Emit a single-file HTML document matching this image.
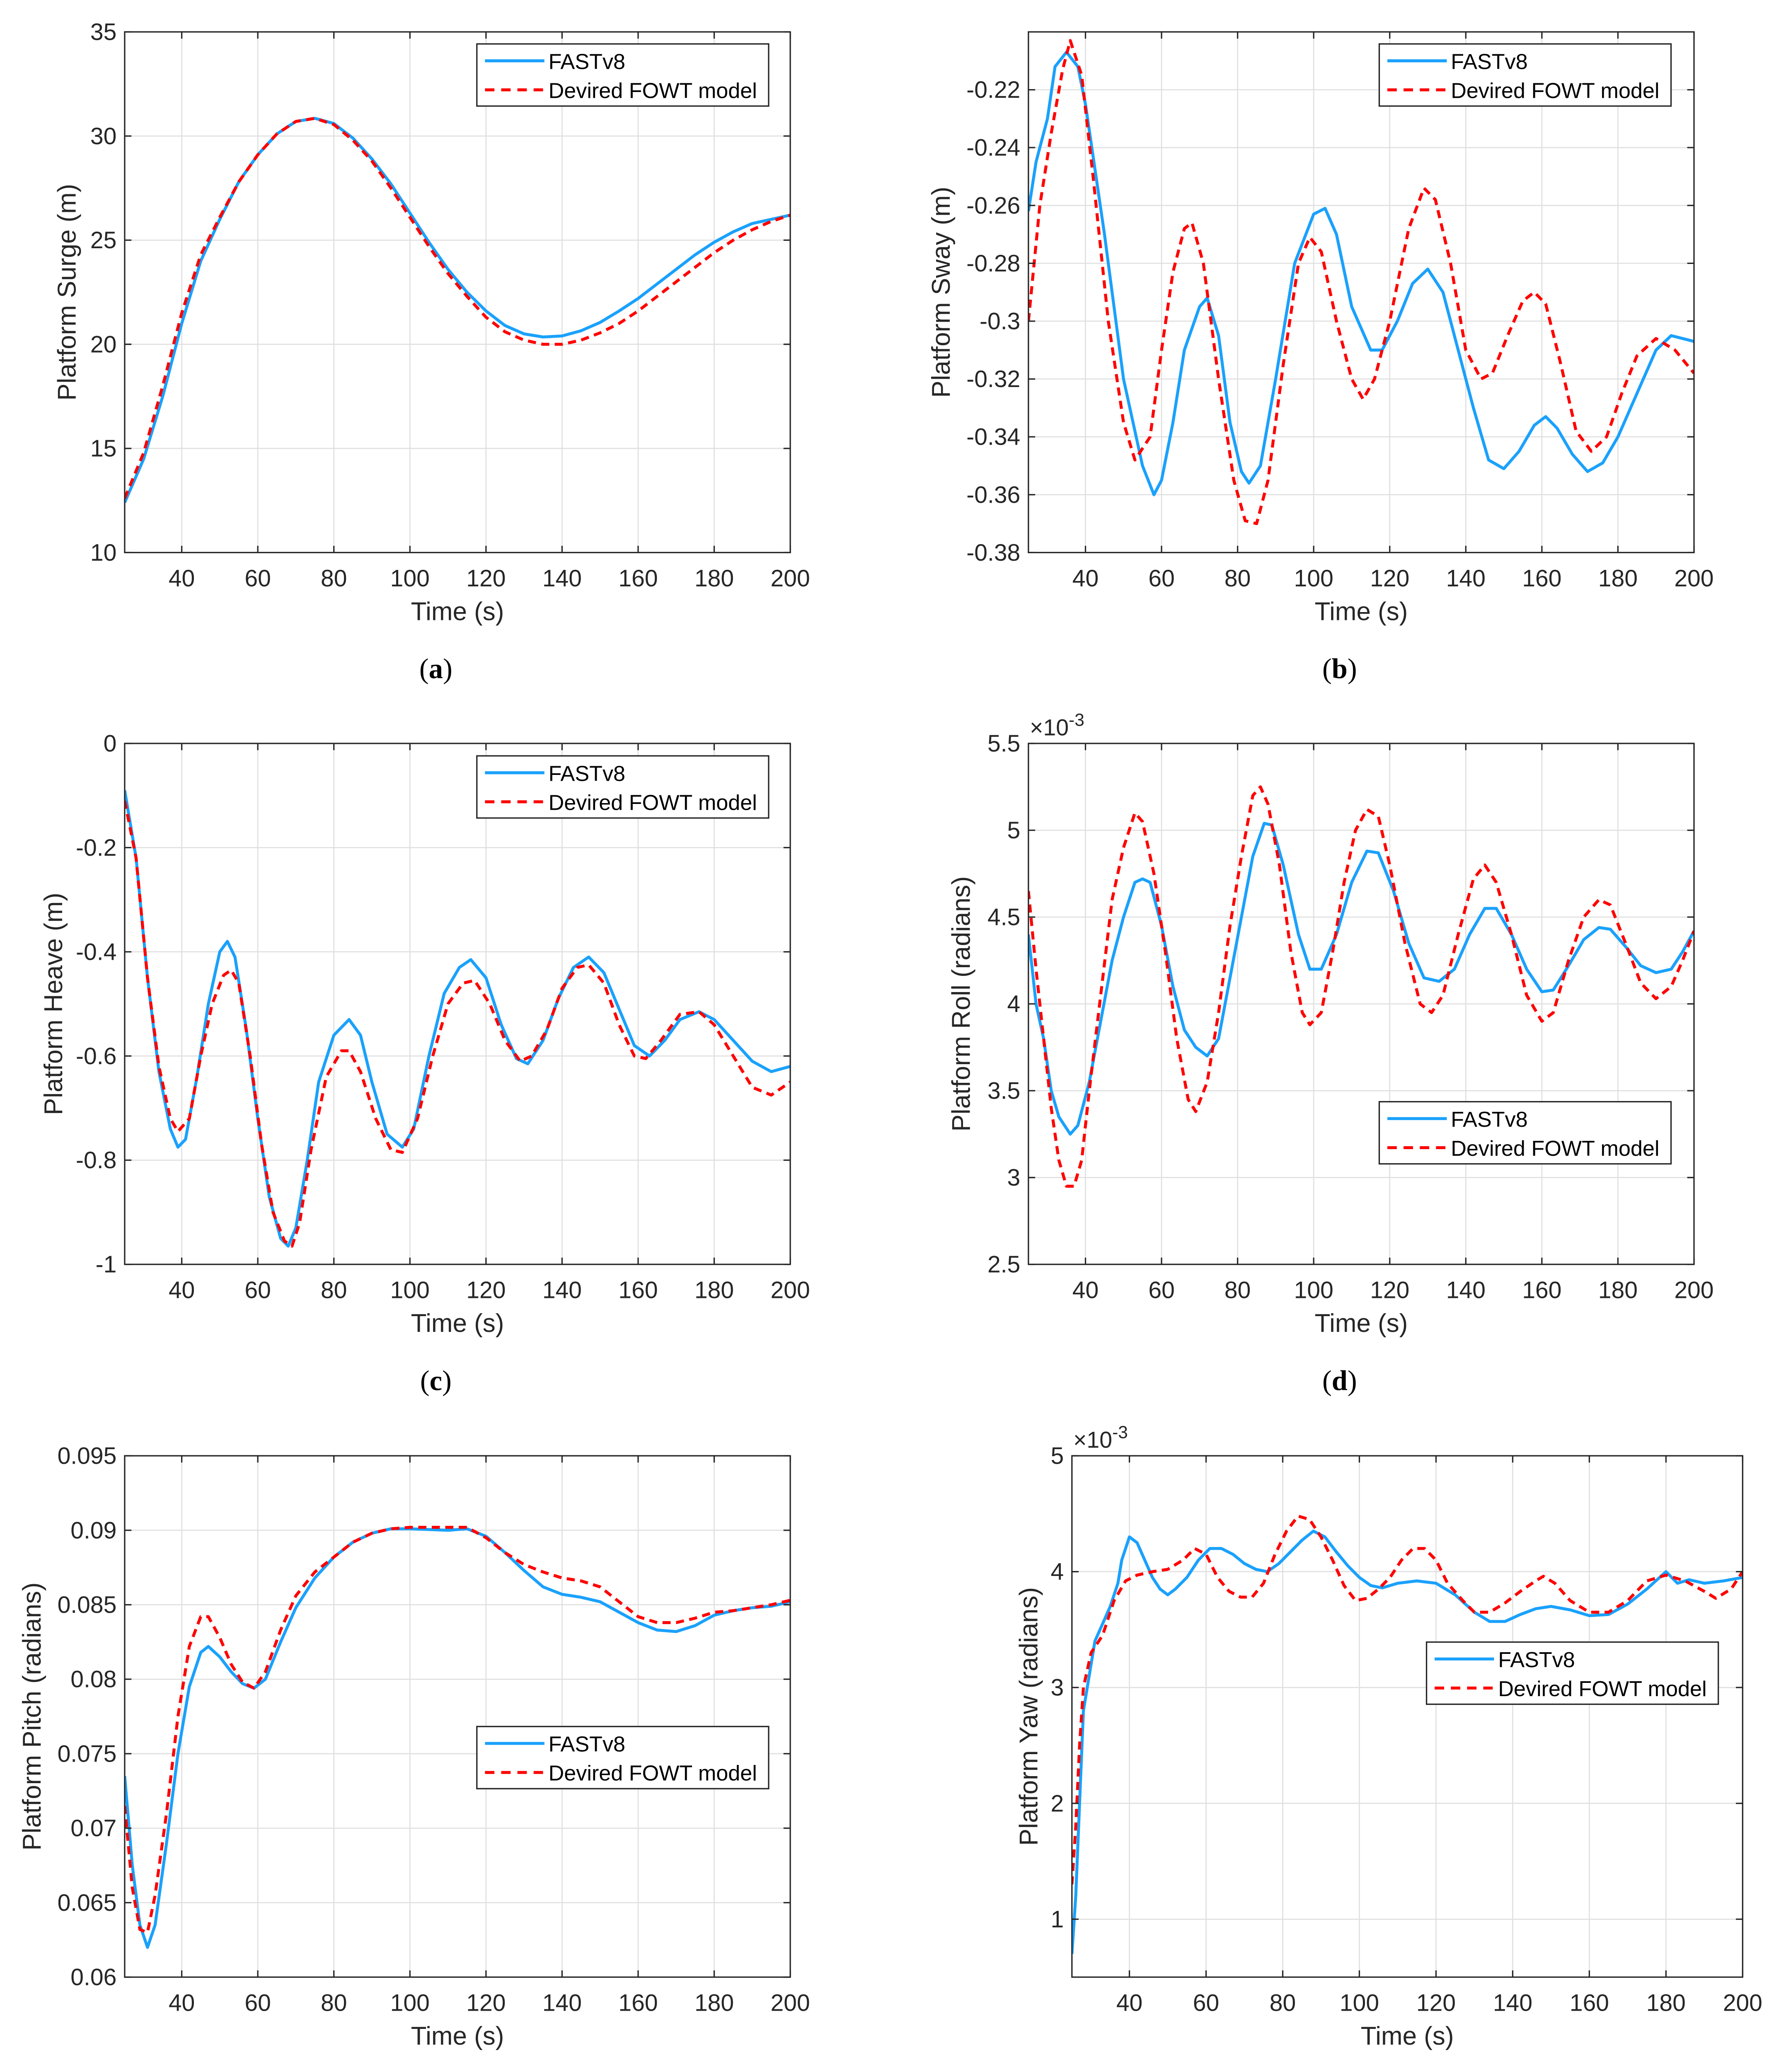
<!DOCTYPE html>
<html><head><meta charset="utf-8">
<style>
html,body{margin:0;padding:0;background:#fff;width:4298px;height:5116px;overflow:hidden;}
svg{display:block;position:absolute;left:0;top:0;}
text{font-family:"Liberation Sans",Arial,sans-serif;fill:#262626;}
</style></head>
<body>
<svg id="fig" xmlns="http://www.w3.org/2000/svg" width="4298" height="5116" viewBox="0 0 1318.4 1569.3"></svg>
<script>
// ---------- data ----------
const surgeT = [25,30,35,40,45,50,55,60,65,70,75,80,85,90,95,100,105,110,115,120,125,130,135,140,145,150,155,160,165,170,175,180,185,190,195,200];
const surgeFast = [12.4,14.5,17.5,21,24,26,27.8,29.1,30.1,30.7,30.85,30.6,29.9,28.9,27.7,26.3,24.9,23.6,22.5,21.6,20.9,20.5,20.35,20.4,20.65,21.05,21.6,22.2,22.9,23.6,24.3,24.9,25.4,25.8,26.0,26.2];
const surgeModel = [12.6,14.8,18,21.5,24.3,26.1,27.8,29.1,30.1,30.7,30.85,30.55,29.8,28.8,27.5,26.1,24.7,23.4,22.3,21.3,20.6,20.2,20.0,20.0,20.2,20.55,21.0,21.6,22.3,23.0,23.7,24.4,25.0,25.5,25.9,26.2];

const swayFastT = [25,27,30,32,35,38,40,45,50,55,58,60,63,66,70,72,75,78,81,83,86,90,95,100,103,106,110,115,118,122,126,130,134,138,142,146,150,154,158,161,164,168,172,176,180,185,190,194,197,200];
const swayFast = [-0.262,-0.245,-0.23,-0.212,-0.207,-0.212,-0.225,-0.27,-0.32,-0.35,-0.36,-0.355,-0.335,-0.31,-0.295,-0.292,-0.305,-0.335,-0.352,-0.356,-0.35,-0.32,-0.28,-0.263,-0.261,-0.27,-0.295,-0.31,-0.31,-0.3,-0.287,-0.282,-0.29,-0.31,-0.33,-0.348,-0.351,-0.345,-0.336,-0.333,-0.337,-0.346,-0.352,-0.349,-0.34,-0.325,-0.31,-0.305,-0.306,-0.307];
const swayModelT = [25,28,31,34,36,39,42,46,50,53,57,60,63,66,68,71,75,79,82,85,88,92,96,99,102,106,110,113,116,120,125,129,132,136,140,144,147,151,155,158,161,165,169,173,177,181,185,190,195,200];
const swayModel = [-0.3,-0.26,-0.235,-0.213,-0.203,-0.215,-0.25,-0.3,-0.335,-0.348,-0.34,-0.31,-0.283,-0.268,-0.266,-0.28,-0.32,-0.355,-0.369,-0.37,-0.355,-0.315,-0.28,-0.271,-0.276,-0.3,-0.32,-0.327,-0.32,-0.3,-0.268,-0.254,-0.258,-0.28,-0.31,-0.32,-0.318,-0.305,-0.293,-0.29,-0.294,-0.315,-0.338,-0.345,-0.34,-0.325,-0.312,-0.306,-0.31,-0.318];

const heaveFastT = [25,28,31,34,37,39,41,44,47,50,52,54,57,60,63,66,68,70,73,76,80,84,87,90,94,98,101,105,109,113,116,120,124,128,131,135,139,143,147,151,155,159,163,167,171,176,180,185,190,195,200];
const heaveFast = [-0.09,-0.22,-0.45,-0.63,-0.74,-0.775,-0.76,-0.64,-0.5,-0.4,-0.38,-0.41,-0.55,-0.72,-0.87,-0.95,-0.965,-0.93,-0.8,-0.65,-0.56,-0.53,-0.56,-0.65,-0.75,-0.775,-0.74,-0.6,-0.48,-0.43,-0.415,-0.45,-0.54,-0.605,-0.615,-0.57,-0.49,-0.43,-0.41,-0.44,-0.51,-0.58,-0.6,-0.57,-0.53,-0.515,-0.53,-0.57,-0.61,-0.63,-0.62];
const heaveModelT = [25,28,31,34,37,39,42,45,48,51,53,55,58,61,64,67,69,71,74,78,82,84,87,91,95,98,102,106,110,114,117,121,125,129,132,136,140,144,147,151,155,159,162,166,171,176,180,185,190,195,200];
const heaveModel = [-0.11,-0.22,-0.45,-0.62,-0.72,-0.745,-0.72,-0.6,-0.5,-0.445,-0.435,-0.46,-0.6,-0.77,-0.9,-0.955,-0.965,-0.92,-0.78,-0.64,-0.59,-0.59,-0.63,-0.72,-0.78,-0.785,-0.72,-0.6,-0.5,-0.46,-0.455,-0.5,-0.57,-0.61,-0.6,-0.55,-0.47,-0.43,-0.425,-0.46,-0.54,-0.6,-0.605,-0.57,-0.52,-0.515,-0.54,-0.6,-0.66,-0.675,-0.65];

const rollFastT = [25,27,29,31,33,36,38,41,44,47,50,53,55,57,60,63,66,69,72,75,78,81,84,87,89,92,96,99,102,106,110,114,117,121,125,129,133,137,141,145,148,152,156,160,163,167,171,175,178,182,186,190,194,197,200];
const rollFast = [4.4,4.0,3.8,3.5,3.35,3.25,3.3,3.55,3.9,4.25,4.5,4.7,4.72,4.7,4.45,4.1,3.85,3.75,3.7,3.8,4.15,4.5,4.85,5.04,5.03,4.8,4.4,4.2,4.2,4.4,4.7,4.88,4.87,4.65,4.35,4.15,4.13,4.2,4.4,4.55,4.55,4.4,4.2,4.07,4.08,4.22,4.37,4.44,4.43,4.33,4.22,4.18,4.2,4.3,4.42];
const rollModelT = [25,27,29,31,33,35,37,39,41,44,47,50,53,55,58,61,64,67,69,72,75,78,81,84,86,88,91,94,97,99,102,105,108,111,114,117,120,124,128,131,134,138,142,145,148,152,156,160,163,167,171,175,178,182,186,190,194,197,200];
const rollModel = [4.65,4.2,3.8,3.4,3.1,2.95,2.95,3.1,3.5,4.05,4.6,4.9,5.1,5.05,4.75,4.3,3.8,3.45,3.38,3.55,3.95,4.45,4.85,5.2,5.25,5.15,4.8,4.3,3.95,3.88,3.95,4.3,4.7,5.0,5.12,5.08,4.8,4.35,4.0,3.95,4.05,4.4,4.72,4.8,4.7,4.4,4.05,3.9,3.95,4.25,4.5,4.6,4.57,4.35,4.12,4.03,4.1,4.25,4.42];

const pitchT = [25,27,29,31,33,36,39,42,45,47,50,53,56,59,62,66,70,75,80,85,90,95,100,110,115,120,125,130,135,140,145,150,155,160,165,170,175,180,185,190,195,200];
const pitchFast = [0.0735,0.0675,0.0635,0.062,0.0635,0.069,0.075,0.0795,0.0818,0.0822,0.0815,0.0805,0.0797,0.0794,0.08,0.0825,0.0848,0.0868,0.0882,0.0892,0.0898,0.0901,0.0901,0.09,0.0901,0.0896,0.0885,0.0873,0.0862,0.0857,0.0855,0.0852,0.0845,0.0838,0.0833,0.0832,0.0836,0.0843,0.0846,0.0848,0.0849,0.0852];
const pitchModel = [0.0715,0.066,0.0632,0.063,0.0655,0.071,0.0775,0.0822,0.0842,0.0842,0.0828,0.081,0.0798,0.0794,0.0805,0.0833,0.0856,0.0872,0.0882,0.0892,0.0898,0.0901,0.0902,0.0902,0.0902,0.0895,0.0885,0.0877,0.0872,0.0868,0.0866,0.0862,0.0852,0.0842,0.0838,0.0838,0.0841,0.0845,0.0846,0.0848,0.085,0.0853];

const yawFastT = [25,26,27,28,29,31,33,35,37,38,40,42,44,46,48,50,52,55,58,61,64,67,70,73,76,79,82,85,88,91,94,97,100,103,106,110,115,120,125,130,134,138,142,146,150,155,160,165,170,175,180,183,186,190,195,200];
const yawFast = [0.7,1.2,2.0,2.8,3.0,3.4,3.55,3.7,3.9,4.1,4.3,4.25,4.1,3.95,3.85,3.8,3.85,3.95,4.1,4.2,4.2,4.15,4.07,4.02,4.0,4.07,4.17,4.27,4.35,4.3,4.17,4.05,3.95,3.88,3.86,3.9,3.92,3.9,3.8,3.65,3.57,3.57,3.63,3.68,3.7,3.67,3.62,3.63,3.72,3.85,4.0,3.9,3.93,3.9,3.92,3.95];
const yawModelT = [25,26,27,28,30,33,36,39,42,46,50,54,57,60,63,66,69,72,75,78,81,84,87,90,93,96,99,102,105,108,111,114,117,120,123,127,130,134,138,142,146,148,151,155,160,165,170,175,180,185,190,193,197,200];
const yawModel = [1.3,1.8,2.5,3.0,3.3,3.45,3.75,3.92,3.97,4.0,4.02,4.1,4.2,4.15,3.95,3.83,3.78,3.78,3.9,4.15,4.35,4.48,4.45,4.3,4.1,3.88,3.75,3.77,3.85,3.95,4.1,4.2,4.2,4.1,3.9,3.75,3.65,3.65,3.73,3.83,3.92,3.96,3.9,3.75,3.65,3.65,3.75,3.92,3.97,3.92,3.83,3.77,3.85,4.0];

const xTicks = [40,60,80,100,120,140,160,180,200];
const surgeTicks = [10,15,20,25,30,35];
const swayTicks = [-0.38,-0.36,-0.34,-0.32,-0.3,-0.28,-0.26,-0.24,-0.22];
const heaveTicks = [-1,-0.8,-0.6,-0.4,-0.2,0];
const rollTicks = [2.5,3,3.5,4,4.5,5,5.5];
const pitchTicks = [0.06,0.065,0.07,0.075,0.08,0.085,0.09,0.095];
const yawTicks = [1,2,3,4,5];

// ---------- drawing ----------
const NS = "http://www.w3.org/2000/svg";
const svg = document.getElementById('fig');
function mk(tag, attrs, parent){
  const e = document.createElementNS(NS, tag);
  for (const k in attrs) e.setAttribute(k, attrs[k]);
  (parent||svg).appendChild(e);
  return e;
}
const BLUE = "#1aa1fc", RED = "#ff0000", AX = "#262626", GRID = "#dfdfdf";

function panel(p){
  const g = mk('g', {});
  
  
  const X = t => p.x0 + (t - 25) / 175 * (p.x1 - p.x0);
  const Y = v => p.y1 - (v - p.ymin) / (p.ymax - p.ymin) * (p.y1 - p.y0);
  xTicks.forEach(t => { const l = mk('line', {x1:X(t),x2:X(t),y1:p.y0,y2:p.y1,stroke:GRID,'stroke-width':0.8}, g);
      });
  p.yTicks.forEach(v => { const l = mk('line', {x1:p.x0,x2:p.x1,y1:Y(v),y2:Y(v),stroke:GRID,'stroke-width':0.8}, g);
      });
  const clipId = p.name + '-clip';
  const cp = mk('clipPath', {id: clipId}, g);
  mk('rect', {x:p.x0,y:p.y0,width:p.x1-p.x0,height:p.y1-p.y0}, cp);
  const path = (ts, vs) => ts.map((t,i)=>(i?'L':'M')+X(t).toFixed(2)+' '+Y(vs[i]).toFixed(2)).join(' ');
  const s1 = mk('path', {d:path(p.tf, p.vf), fill:'none', stroke:BLUE, 'stroke-width':2.2, 'stroke-linejoin':'round', 'clip-path':'url(#'+clipId+')'}, g);
   
  const s2 = mk('path', {d:path(p.tm, p.vm), fill:'none', stroke:RED, 'stroke-width':2.2, 'stroke-linejoin':'round', 'stroke-dasharray':'6 4', 'clip-path':'url(#'+clipId+')'}, g);
   
  const bx = mk('rect', {x:p.x0,y:p.y0,width:p.x1-p.x0,height:p.y1-p.y0,fill:'none',stroke:AX,'stroke-width':1}, g);
   
  xTicks.forEach(t => {
    mk('line',{x1:X(t),x2:X(t),y1:p.y1,y2:p.y1-5,stroke:AX,'stroke-width':1},g);
    mk('line',{x1:X(t),x2:X(t),y1:p.y0,y2:p.y0+5,stroke:AX,'stroke-width':1},g);
    const tx = mk('text',{x:X(t),y:p.y1+25,'text-anchor':'middle','font-size':17.5},g);
    tx.textContent = t;
     
  });
  p.yTicks.forEach(v => {
    mk('line',{x1:p.x0,x2:p.x0+5,y1:Y(v),y2:Y(v),stroke:AX,'stroke-width':1},g);
    mk('line',{x1:p.x1,x2:p.x1-5,y1:Y(v),y2:Y(v),stroke:AX,'stroke-width':1},g);
    const tx = mk('text',{x:p.x0-6,y:Y(v)+6,'text-anchor':'end','font-size':17.5},g);
    tx.textContent = String(v);
     
  });
  const xt = mk('text',{x:(p.x0+p.x1)/2,y:p.y1+50,'text-anchor':'middle','font-size':19},g);
  xt.textContent = 'Time (s)';
   
  const yt = mk('text',{x:0,y:0,'text-anchor':'middle','font-size':19,transform:'translate('+p.ytx+','+((p.y0+p.y1)/2)+') rotate(-90)'},g);
  yt.textContent = p.ytitle;
   
  if (p.exp){
    const ex = mk('text',{x:p.x0+1,y:p.y0-6,'font-size':17},g);
    ex.textContent = '\u00d710';
    const sp = mk('tspan',{dy:-7,'font-size':13},ex);
    sp.textContent = '-3';
     
  }
  const lg = mk('g',{},g);
   
  mk('rect',{x:p.lx,y:p.ly,width:216,height:46,fill:'#fff',stroke:AX,'stroke-width':1},lg);
  mk('line',{x1:p.lx+6,x2:p.lx+50,y1:p.ly+12.5,y2:p.ly+12.5,stroke:BLUE,'stroke-width':2.2},lg);
  mk('line',{x1:p.lx+6,x2:p.lx+50,y1:p.ly+34,y2:p.ly+34,stroke:RED,'stroke-width':2.2,'stroke-dasharray':'7 5'},lg);
  const l1 = mk('text',{x:p.lx+53,y:p.ly+18.5,'font-size':16,style:'fill:#000'},lg);
  l1.textContent = 'FASTv8';
   
  const l2 = mk('text',{x:p.lx+53,y:p.ly+40,'font-size':16,style:'fill:#000'},lg);
  l2.textContent = 'Devired FOWT model';
   
  const cap = mk('text',{x:(p.x0+p.x1)/2 - 16 + (p.capdx||0),y:p.y1+93,'text-anchor':'middle','font-size':21,style:'font-family:"Liberation Serif",serif;fill:#000'},g);
  cap.textContent = '(';
  const b = mk('tspan',{'font-weight':'bold'},cap); b.textContent = p.cap;
  const c2 = mk('tspan',{},cap); c2.textContent = ')';
   
}

const R1 = [23.6,409], R2 = [550.3,935.9], R3 = [1077.6,1463.5];
const L = [92.3,585], Rr = [761.3,1254];
panel({name:'surge-chart',x0:L[0],x1:L[1],y0:R1[0],y1:R1[1],ymin:10,ymax:35,yTicks:surgeTicks,tf:surgeT,vf:surgeFast,tm:surgeT,vm:surgeModel,ytitle:'Platform Surge (m)',ytx:56,lx:353,ly:32.5,cap:'a'});
panel({name:'sway-chart',x0:Rr[0],x1:Rr[1],y0:R1[0],y1:R1[1],ymin:-0.38,ymax:-0.2,yTicks:swayTicks,tf:swayFastT,vf:swayFast,tm:swayModelT,vm:swayModel,ytitle:'Platform Sway (m)',ytx:703,lx:1021,ly:32.5,cap:'b'});
panel({name:'heave-chart',x0:L[0],x1:L[1],y0:R2[0],y1:R2[1],ymin:-1,ymax:0,yTicks:heaveTicks,tf:heaveFastT,vf:heaveFast,tm:heaveModelT,vm:heaveModel,ytitle:'Platform Heave (m)',ytx:46,lx:353,ly:559.5,cap:'c'});
panel({name:'roll-chart',x0:Rr[0],x1:Rr[1],y0:R2[0],y1:R2[1],ymin:2.5,ymax:5.5,yTicks:rollTicks,tf:rollFastT,vf:rollFast,tm:rollModelT,vm:rollModel,ytitle:'Platform Roll (radians)',ytx:718,lx:1021,ly:815.5,cap:'d',exp:true});
panel({name:'pitch-chart',x0:L[0],x1:L[1],y0:R3[0],y1:R3[1],ymin:0.06,ymax:0.095,yTicks:pitchTicks,tf:pitchT,vf:pitchFast,tm:pitchT,vm:pitchModel,ytitle:'Platform Pitch (radians)',ytx:30,lx:353,ly:1278,cap:'e'});
panel({name:'yaw-chart',x0:793.5,x1:1290,y0:R3[0],y1:R3[1],ymin:0.5,ymax:5,yTicks:yawTicks,tf:yawFastT,vf:yawFast,tm:yawModelT,vm:yawModel,ytitle:'Platform Yaw (radians)',ytx:768,lx:1056,ly:1215.5,cap:'f',exp:true,capdx:-2});
</script>
</body></html>
